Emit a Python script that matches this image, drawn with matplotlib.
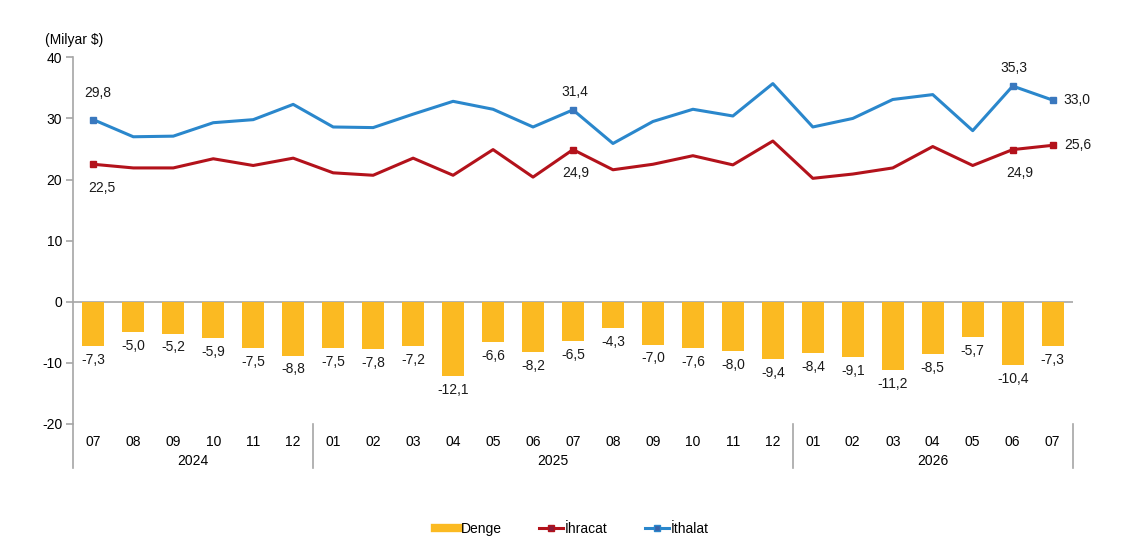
import numpy as np
import matplotlib
matplotlib.use("Agg")
import matplotlib.pyplot as plt
from matplotlib.lines import Line2D

plt.rcParams['font.family'] = ['Liberation Sans', 'DejaVu Sans']
plt.rcParams['axes.unicode_minus'] = False

# months from 2024-07 to 2026-07
months = ['07', '08', '09', '10', '11', '12',
          '01', '02', '03', '04', '05', '06', '07', '08', '09', '10', '11', '12',
          '01', '02', '03', '04', '05', '06', '07']
years = ['2024', '2025', '2026']
year_counts = [6, 12, 7]

# balance (Denge), exports (İhracat), imports (İthalat) in billion $
denge = [-7.3, -5.0, -5.2, -5.9, -7.5, -8.8,
         -7.5, -7.8, -7.2, -12.1, -6.6, -8.2, -6.5, -4.3, -7.0, -7.6, -8.0, -9.4,
         -8.4, -9.1, -11.2, -8.5, -5.7, -10.4, -7.3]
ihracat = [22.5, 21.9, 21.9, 23.4, 22.3, 23.5,
           21.1, 20.7, 23.5, 20.7, 24.9, 20.4, 24.9, 21.6, 22.5, 23.9, 22.4, 26.3,
           20.2, 20.9, 21.9, 25.4, 22.3, 24.9, 25.6]
ithalat = [29.8, 27.0, 27.1, 29.3, 29.8, 32.3,
           28.6, 28.5, 30.7, 32.8, 31.5, 28.6, 31.4, 25.9, 29.5, 31.5, 30.4, 35.7,
           28.6, 30.0, 33.1, 33.9, 28.0, 35.3, 33.0]

# indices of points that carry a marker and a value label
marked = [0, 12, 23, 24]

YELLOW = '#FBBA22'
RED = '#B3121B'
BLUE = '#2A87CC'
GRID = '#A6A6A6'

fig = plt.figure(figsize=(11.37, 5.48), dpi=100)
ax = fig.add_axes([0.0645, 0.2263, 0.8789, 0.6691])

x = np.arange(len(months))
bars = ax.bar(x, denge, width=0.55, color=YELLOW, zorder=2)
ax.plot(x, ihracat, color=RED, lw=2.2, zorder=3)
ax.plot(x, ithalat, color=BLUE, lw=2.2, zorder=3)
ax.plot(x[marked], np.array(ihracat)[marked], ls='none', marker='s', ms=5,
        color=RED, zorder=4)
ax.plot(x[marked], np.array(ithalat)[marked], ls='none', marker='s', ms=5,
        color='#3A78BE', zorder=4)

fmt = lambda v: f"{v:.1f}".replace('.', ',')

# bar labels under the bars
for xi, v in zip(x, denge):
    ax.annotate(fmt(v), (xi, v), xytext=(0, -5), textcoords='offset points',
                ha='center', va='top', fontsize=10, color='#1a1a1a')

# line labels (offsets in points)
ith_off = {0: (3, 14), 12: (1, 8), 23: (1, 8), 24: (8, 0)}
ihr_off = {0: (6, -12), 12: (2, -12), 23: (5, -12), 24: (8, 0)}
for i in marked:
    dx, dy = ith_off[i]
    ha = 'left' if i == 24 else 'center'
    va = 'center' if i == 24 else 'bottom'
    ax.annotate(fmt(ithalat[i]), (x[i], ithalat[i]), xytext=(dx, dy),
                textcoords='offset points', ha=ha, va=va, fontsize=10, color='#1a1a1a')
    dx, dy = ihr_off[i]
    va = 'center' if i == 24 else 'top'
    ax.annotate(fmt(ihracat[i]), (x[i], ihracat[i]), xytext=(dx, dy),
                textcoords='offset points', ha=ha, va=va, fontsize=10, color='#1a1a1a')

ax.set_xlim(-0.5, len(months) - 0.5)
ax.set_ylim(-20, 40)
ax.set_yticks([-20, -10, 0, 10, 20, 30, 40])
ax.axhline(0, color=GRID, lw=1.2, zorder=1)

for s in ['top', 'right', 'bottom']:
    ax.spines[s].set_visible(False)
ax.spines['left'].set_color(GRID)
ax.spines['left'].set_linewidth(1.2)
ax.tick_params(axis='y', length=5, width=1.2, color=GRID, labelsize=10, pad=3)
ax.set_xticks(x)
ax.set_xticklabels(months, fontsize=10)
ax.tick_params(axis='x', length=0, pad=8)

# year group separators and labels below the axis
tr = ax.get_xaxis_transform()
edges = np.concatenate([[0], np.cumsum(year_counts)]) - 0.5
for e in edges:
    ax.plot([e, e], [0, -0.12], transform=tr, color=GRID, lw=1.2, clip_on=False)
for yr, a, b in zip(years, edges[:-1], edges[1:]):
    ax.text((a + b) / 2, -0.1, yr, transform=tr, ha='center', va='center', fontsize=10)

fig.text(0.04, 0.927, '(Milyar $)', ha='left', va='center', fontsize=10)

handles = [Line2D([], [], color=YELLOW, lw=6),
           Line2D([], [], color=RED, lw=2.2, marker='s', ms=5, markerfacecolor='#8B1A3A'),
           Line2D([], [], color=BLUE, lw=2.2, marker='s', ms=5, markerfacecolor='#3A62A8')]
fig.legend(handles, ['Denge', 'İhracat', 'İthalat'], loc='center',
           bbox_to_anchor=(0.503, 0.035), ncol=3, frameon=False, fontsize=10,
           handlelength=1.7, handletextpad=0.15, columnspacing=2.7)

fig.savefig('out.png', dpi=100)
